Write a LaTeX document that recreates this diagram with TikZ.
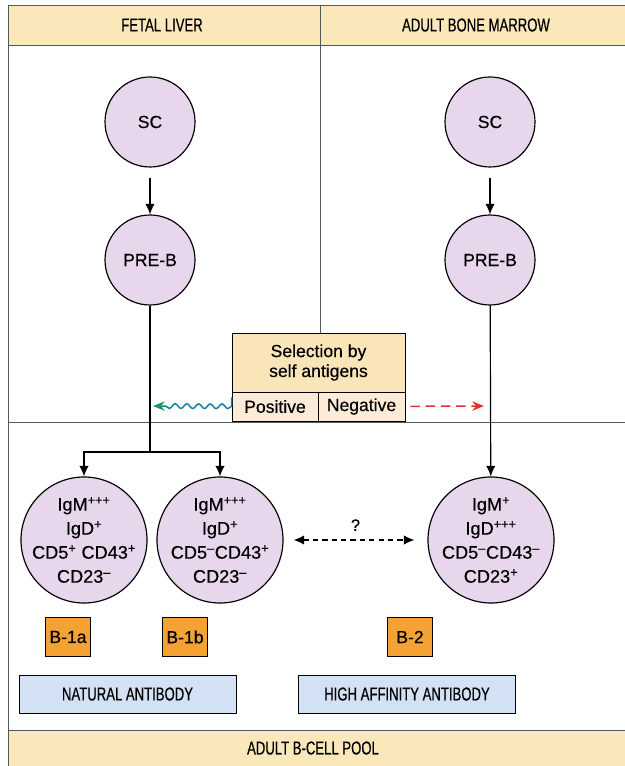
\documentclass[tikz,border=0pt]{standalone}
\usepackage{fontspec}
\setmainfont{Liberation Sans}[FakeBold=0.4]
\newfontfamily\narrowsf{Liberation Sans}[FakeStretch=0.7, FakeBold=0.4]
\usetikzlibrary{arrows.meta, decorations.pathmorphing}
\definecolor{cellfill}{RGB}{231,214,236}
\definecolor{bandfill}{RGB}{251,232,186}
\definecolor{selfill}{RGB}{250,229,184}
\definecolor{signfill}{RGB}{252,235,214}
\definecolor{tagfill}{RGB}{245,162,52}
\definecolor{abfill}{RGB}{210,226,244}
\definecolor{framecol}{RGB}{78,92,92}
\definecolor{wavecol}{RGB}{25,130,160}
\definecolor{poscol}{RGB}{25,150,90}
\definecolor{negcol}{RGB}{235,45,45}
\newcommand{\mk}[1]{\textsuperscript{#1}}

\begin{document}
\begin{tikzpicture}[x=0.03cm, y=-0.03cm,
  cell/.style    = {circle, draw, line width=1pt, fill=cellfill, minimum size=2.7cm,
                    inner sep=0pt, align=center, font=\fontsize{15}{18}\selectfont},
  mature/.style  = {cell, minimum size=3.78cm, inner sep=-12pt, font=\fontsize{15.5}{20.5}\selectfont},
  tag/.style     = {draw, line width=0.8pt, fill=tagfill, minimum width=1.35cm,
                    minimum height=1.17cm, inner sep=0pt, font=\fontsize{15}{18}\selectfont},
  antibody/.style= {draw, line width=0.8pt, fill=abfill, minimum width=6.51cm,
                    minimum height=1.14cm, font=\narrowsf\fontsize{16}{18}\selectfont},
  selbox/.style  = {draw, line width=0.8pt, fill=selfill, minimum width=5.19cm,
                    minimum height=1.77cm, align=center, font=\fontsize{15}{17}\selectfont},
  signbox/.style = {draw, line width=0.8pt, fill=signfill, minimum height=0.87cm,
                    inner sep=0pt, font=\fontsize{15}{18}\selectfont},
  head/.style    = {font=\narrowsf\fontsize{16}{18}\selectfont},
  frame/.style   = {line width=0.6pt, color=framecol},
  arr/.style     = {-{Latex[length=9pt,width=8pt]}, line width=1pt},
  wavy/.style    = {-{Stealth[length=10pt,width=8pt,color=poscol]}, line width=1.3pt, color=wavecol,
                    decorate, decoration={snake, amplitude=2pt, segment length=10pt, post length=6pt}},
  negarr/.style  = {-{Stealth[length=10pt,width=8pt]}, line width=1.3pt, color=negcol,
                    dash pattern=on 8pt off 5pt}
]
\useasboundingbox (0,0) rectangle (625,766);

% bands and frame
\fill[bandfill] (8,5) rectangle (625,45);
\fill[bandfill] (8,730) rectangle (625,766);
\draw[frame] (8,5) -- (625,5);
\draw[frame] (8,45) -- (625,45);
\draw[frame] (8,5) -- (8,766);
\draw[frame] (320,5) -- (320,333);
\draw[frame] (8,422) -- (625,422);
\draw[frame] (8,730) -- (625,730);

\node[head] (fetal) at (162,25) {FETAL LIVER};
\node[head] (marrow) at (476,25) {ADULT BONE MARROW};
\node[head] (pool) at (313,748) {ADULT B-CELL POOL};

% precursors
\node[cell] (sc1)   at (150,122) {SC};
\node[cell] (preb1) at (150,260) {PRE-B};
\node[cell] (sc2)   at (490,122) {SC};
\node[cell] (preb2) at (490,260) {PRE-B};

% selection box
\node[selbox] (sel) at (318.5,362.5) {Selection by\\self antigens};
\node[signbox, minimum width=2.58cm] (pos) at (275,406.5) {Positive};
\node[signbox, minimum width=2.61cm] (neg) at (361.5,406.5) {Negative};

% mature B cells
\node[mature] (b1a) at (84,540)  {IgM\mk{+++}\\IgD\mk{+}\\CD5\mk{+} CD43\mk{+}\\CD23\mk{--}};
\node[mature] (b1b) at (220,540) {IgM\mk{+++}\\IgD\mk{+}\\CD5\mk{--}CD43\mk{+}\\CD23\mk{--}};
\node[mature] (b2)  at (491,540) {IgM\mk{+}\\IgD\mk{+++}\\CD5\mk{--}CD43\mk{--}\\CD23\mk{+}};

\node[tag] (t1a) at (68,637)  {B-1a};
\node[tag] (t1b) at (185,637) {B-1b};
\node[tag] (t2)  at (410,637) {B-2};

\node[antibody] (natural) at (127.5,694) {NATURAL ANTIBODY};
\node[antibody] (affinity) at (407,694) {HIGH AFFINITY ANTIBODY};

\coordinate (split)  at (150,452);
\coordinate (posend) at (153,406);
\coordinate (negend) at (484,406);

\draw[arr, shorten <=0.3cm] (sc1) -- (preb1);
\draw[arr, shorten <=0.3cm] (sc2) -- (preb2);
\draw[line width=1pt] (preb1) -- (split);
\draw[arr] (split) -| (b1a);
\draw[arr] (split) -| (b1b);
\draw[arr] (preb2) -- (b2);
\draw[{Latex[length=9pt,width=8pt]}-{Latex[length=9pt,width=8pt]}, line width=1pt,
      dash pattern=on 4.5pt off 3.5pt, shorten <=0.3cm, shorten >=0.39cm]
  (b1b) -- node[above=4pt, font=\fontsize{14}{16}\selectfont] {?} (b2);
\draw[wavy, shorten <=0.27cm] (pos) -- (posend);
\draw[negarr, shorten <=0.15cm] (neg) -- (negend);
\end{tikzpicture}
\end{document}
